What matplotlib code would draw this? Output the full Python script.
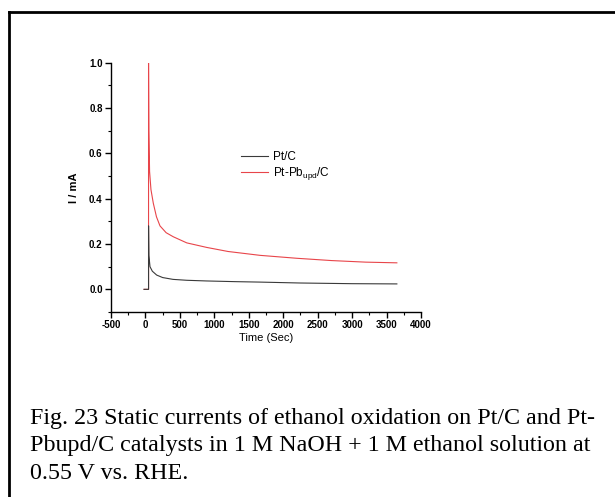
import numpy as np
import matplotlib
matplotlib.use("Agg")
import matplotlib.pyplot as plt
from matplotlib.lines import Line2D
from matplotlib.ticker import MultipleLocator

plt.rcParams['font.family'] = 'Liberation Sans'
plt.rcParams['mathtext.default'] = 'regular'
plt.rcParams['axes.unicode_minus'] = False

# Pt/C (black)
t_pt = [-20, 45, 45, 50, 66, 100, 163, 250, 400, 600, 889, 1300, 1663, 2244, 3000, 3650]
i_pt = [0, 0, 0.28, 0.15, 0.10, 0.08, 0.063, 0.052, 0.044, 0.040, 0.037, 0.034, 0.032, 0.028, 0.025, 0.024]

# Pt-Pb_upd/C (red)
t_ptpb = [-20, 45, 45, 50, 60, 80, 114, 160, 211, 300, 404, 600, 889, 1200, 1663, 2200, 2700, 3200, 3650]
i_ptpb = [0, 0, 1.0, 0.7, 0.52, 0.44, 0.38, 0.32, 0.28, 0.25, 0.232, 0.205, 0.185, 0.167, 0.15, 0.137, 0.127, 0.12, 0.117]

labels = ['Pt/C', 'Pt-Pb$_{upd}$/C']
caption = ["Fig. 23 Static currents of ethanol oxidation on Pt/C and Pt-",
           "Pbupd/C catalysts in 1 M NaOH + 1 M ethanol solution at",
           "0.55 V vs. RHE."]

fig = plt.figure(figsize=(6.15, 4.97), dpi=100)
ax = fig.add_axes([0.1805, 0.3722, 0.504, 0.5017])

ax.plot(t_ptpb, i_ptpb, color='#e8454a', lw=0.8, label=labels[1])
ax.plot(t_pt, i_pt, color='#3a3a3a', lw=0.8, label=labels[0])

ax.set_xlim(-500, 4000)
ax.set_ylim(-0.1, 1.0)
ax.xaxis.set_major_locator(MultipleLocator(500))
ax.xaxis.set_minor_locator(MultipleLocator(250))
ax.yaxis.set_minor_locator(MultipleLocator(0.1))
ax.set_yticks([0.0, 0.2, 0.4, 0.6, 0.8, 1.0])
ax.spines['top'].set_visible(False)
ax.spines['right'].set_visible(False)
for s in ['left', 'bottom']:
    ax.spines[s].set_linewidth(1.0)
ax.tick_params(which='major', direction='out', length=4, width=1.0, labelsize=7, pad=2)
ax.tick_params(which='minor', direction='out', length=2, width=0.8)
for lab in ax.get_xticklabels() + ax.get_yticklabels():
    lab.set_fontweight('bold')

ax.set_xlabel('Time (Sec)', fontsize=8, labelpad=2)
ax.set_ylabel('I / mA', fontsize=8, fontweight='bold', labelpad=7)

h, l = ax.get_legend_handles_labels()
ax.legend(h[::-1], l[::-1], loc='upper left', bbox_to_anchor=(241 / 615, 1 - 151 / 497),
          bbox_transform=fig.transFigure, frameon=False, fontsize=8.5, handlelength=2.3,
          handletextpad=0.4, labelspacing=0.15, borderpad=0, borderaxespad=0)

# frame lines (top and left only)
fig.add_artist(Line2D([9 / 615, 1.0], [1 - 11.5 / 497, 1 - 11.5 / 497], color='black', lw=2.0))
fig.add_artist(Line2D([9 / 615, 9 / 615], [0.0, 1 - 11.5 / 497], color='black', lw=2.0))

for k, line in enumerate(caption):
    fig.text(30 / 615, 1 - (424 + 27.5 * k) / 497, line, fontsize=17.3,
             family='Liberation Serif', ha='left', va='baseline')

fig.savefig('out.png', dpi=100)
